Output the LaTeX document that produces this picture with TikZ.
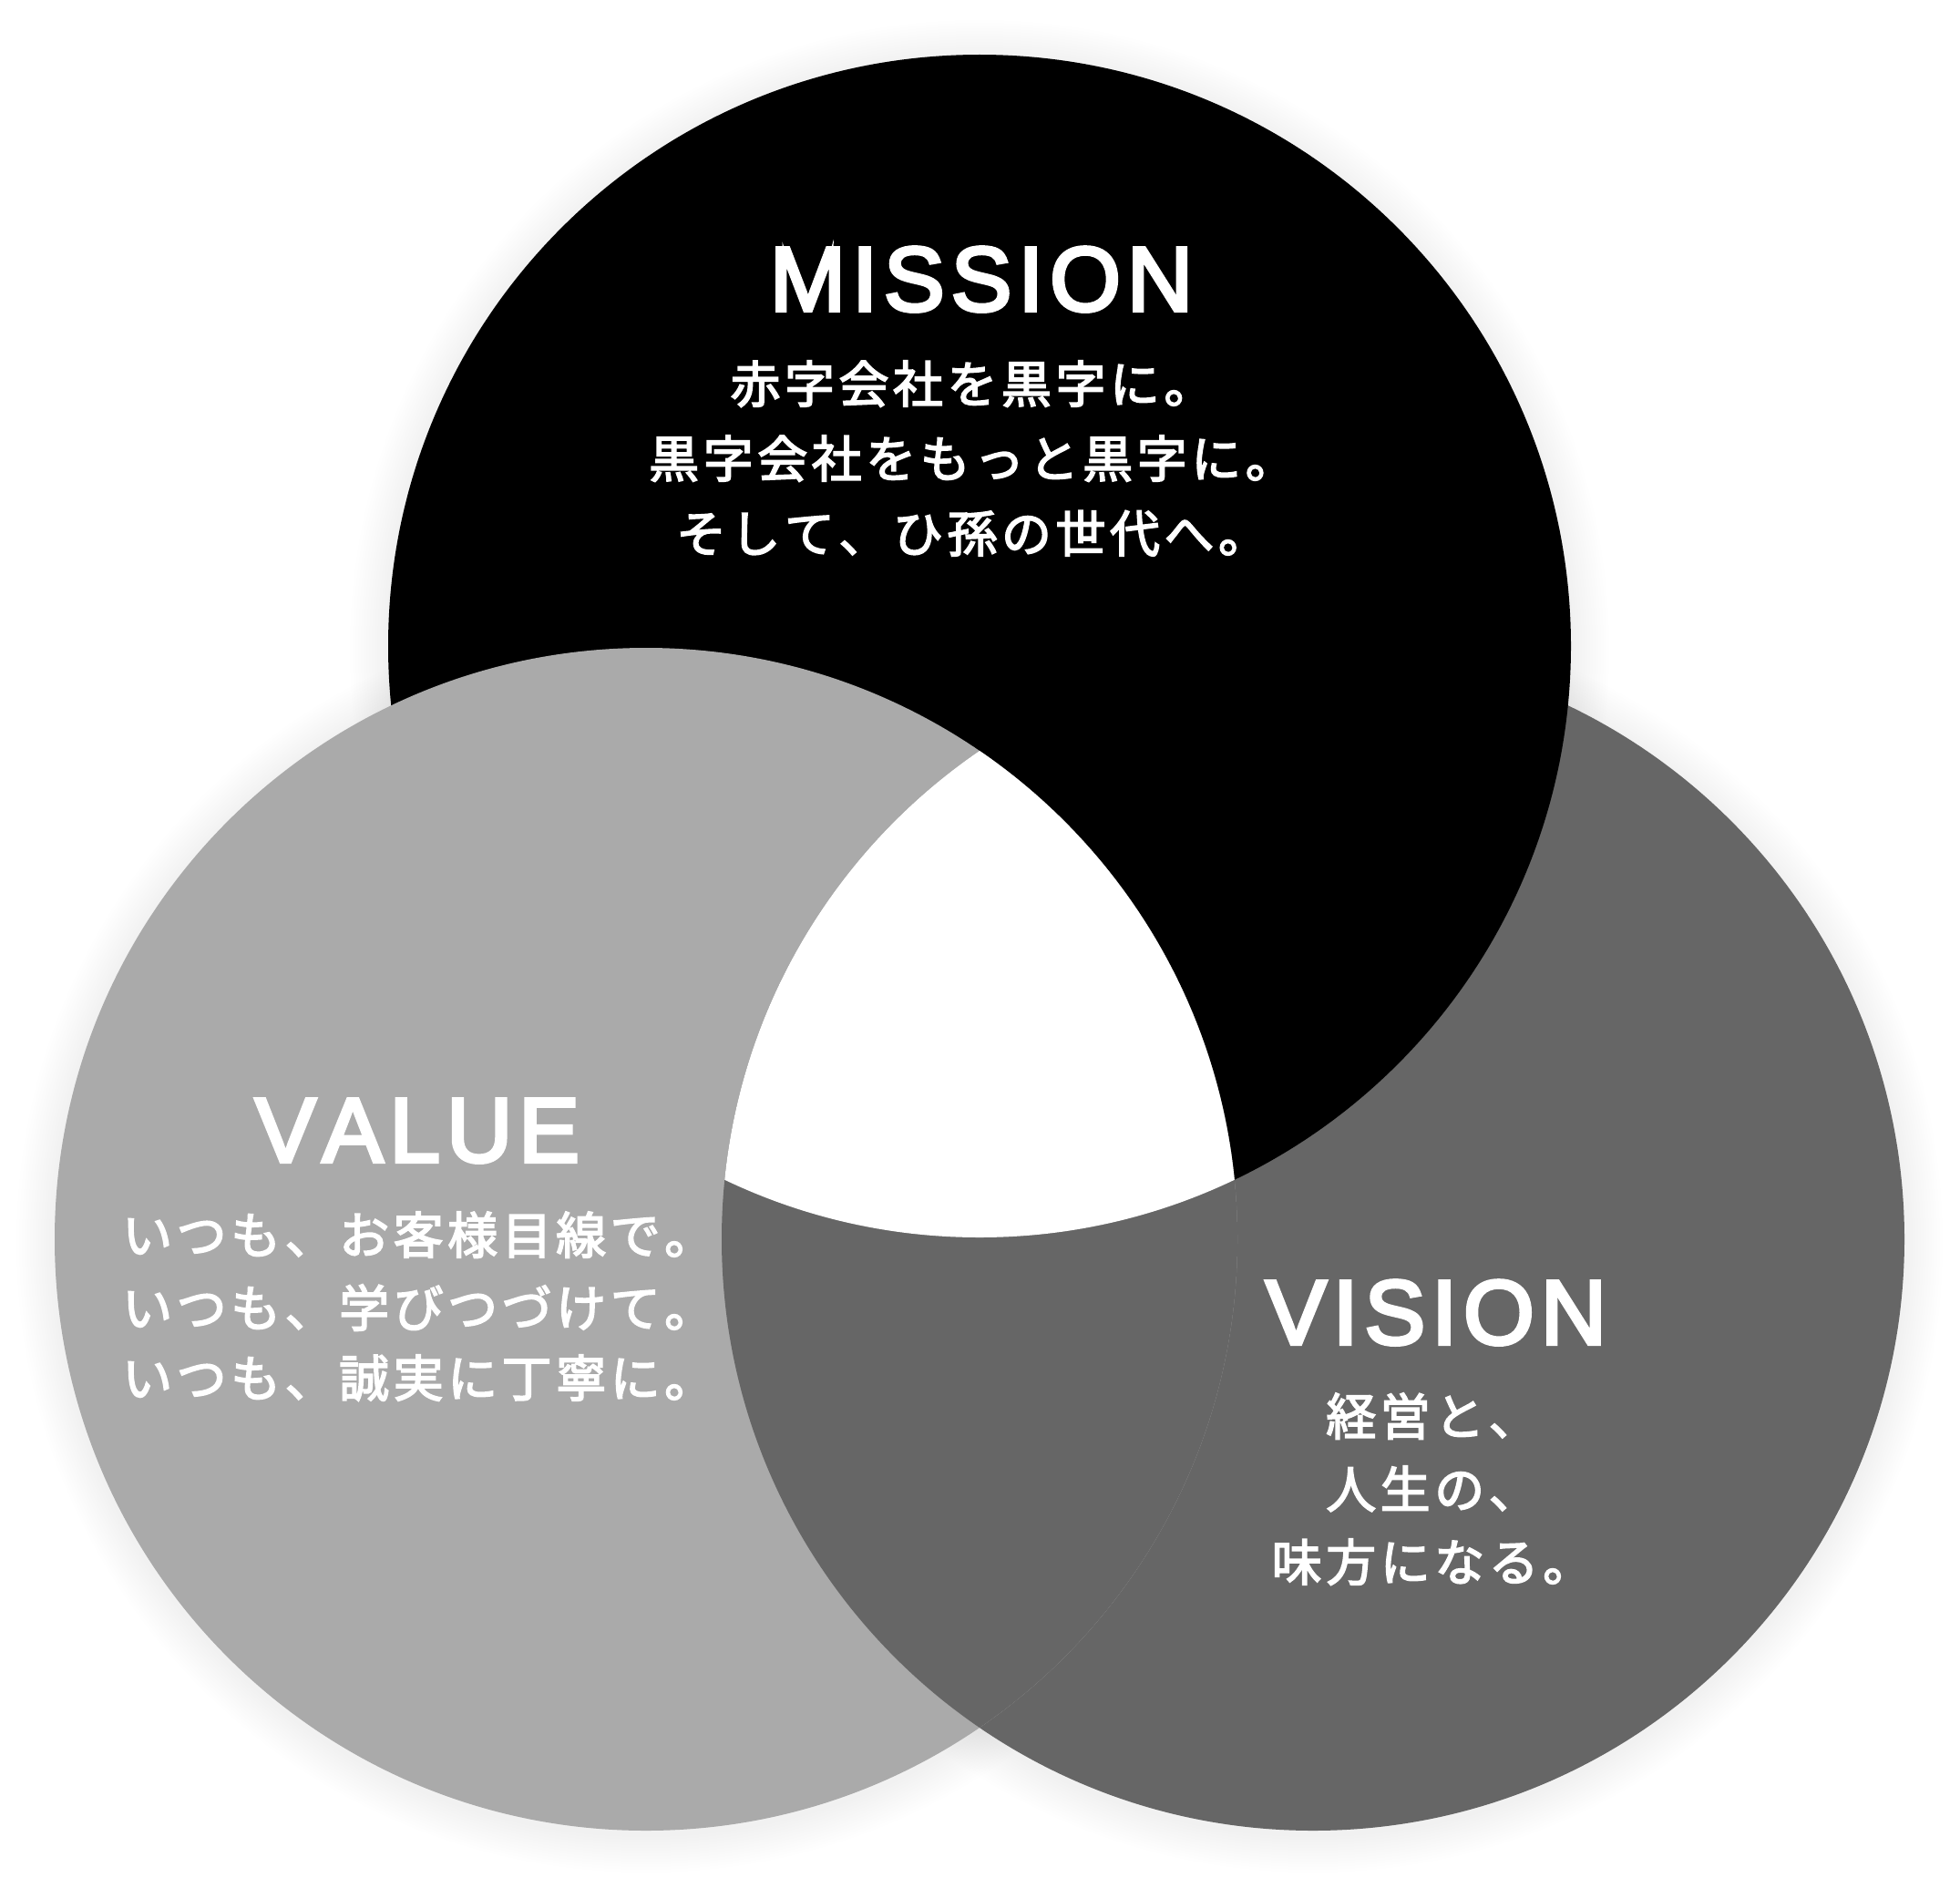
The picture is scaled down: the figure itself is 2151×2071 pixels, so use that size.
\documentclass[tikz,border=0pt]{standalone}
\usepackage{fontspec}
\setmainfont{Liberation Sans}
\newfontfamily\titlefont{Liberation Sans}[FakeBold=4]
\newfontfamily\jpfont{Noto Sans CJK JP}[FakeBold=3]
\definecolor{valueg}{HTML}{AAAAAA}
\definecolor{visiong}{HTML}{666666}
\def\trkloop#1{\ifx#1\relax\else#1\kern\trkamt\relax\expandafter\trkloop\fi}
\newcommand\trk[2]{\def\trkamt{#1}\trkloop#2\relax\unkern}
\begin{document}
\begin{tikzpicture}[x=1pt,y=-1pt,
  title/.style={text=white, inner sep=0pt, font=\titlefont\fontsize{100}{100}\selectfont},
  jline/.style={text=white, inner sep=0pt, font=\jpfont\fontsize{55}{55}\selectfont},
  disc/.style={radius=649pt}]
\useasboundingbox (0,0) rectangle (2151,2071);
\fill[white] (0,0) rectangle (2151,2071);
\coordinate (cm) at (1075,709);
\coordinate (cl) at (709,1360);
\coordinate (cr) at (1441,1360);
% soft shadow
\foreach \k in {1,...,14} {
  \foreach \c in {cm,cl,cr} {
    \fill[black, opacity=0.004] ([yshift=-4pt]\c) circle[radius=649pt+3pt*\k];
  }
}
% circles (cyclic overlap)
\fill[visiong] (cr) circle[disc];
\fill[black] (cm) circle[disc];
\fill[valueg] (cl) circle[disc];
\begin{scope}
  \clip (cl) circle[disc];
  \fill[visiong] (cr) circle[disc];
\end{scope}
\begin{scope}
  \clip (cl) circle[disc];
  \clip (cr) circle[disc];
  \fill[white] (cm) circle[disc];
\end{scope}
% MISSION
\node[title, anchor=base] (mt) at (1077,341) {\trk{7pt}{MISSION}};
\node[jline, anchor=base] (m1) at (1067,442) {\trk{4.5pt}{赤字会社を黒字に。}};
\node[jline, anchor=base] (m2) at (1067,524) {\trk{4.5pt}{黒字会社をもっと黒字に。}};
\node[jline, anchor=base] (m3) at (1067,606) {\trk{4.5pt}{そして、ひ孫の世代へ。}};
% VALUE
\node[title, anchor=base] (vt) at (458,1275) {\trk{7pt}{VALUE}};
\node[jline, anchor=base west] (v1) at (134,1376) {\trk{4.5pt}{いつも、お客様目線で。}};
\node[jline, anchor=base west] (v2) at (134,1456) {\trk{4.5pt}{いつも、学びつづけて。}};
\node[jline, anchor=base west] (v3) at (134,1533) {\trk{4.5pt}{いつも、誠実に丁寧に。}};
% VISION
\node[title, anchor=base] (st) at (1576,1475) {\trk{7pt}{VISION}};
\node[jline, anchor=base] (s1) at (1572,1575) {\trk{4.5pt}{経営と、}};
\node[jline, anchor=base] (s2) at (1572,1655) {\trk{4.5pt}{人生の、}};
\node[jline, anchor=base] (s3) at (1572,1735) {\trk{4.5pt}{味方になる。}};
\end{tikzpicture}
\end{document}
